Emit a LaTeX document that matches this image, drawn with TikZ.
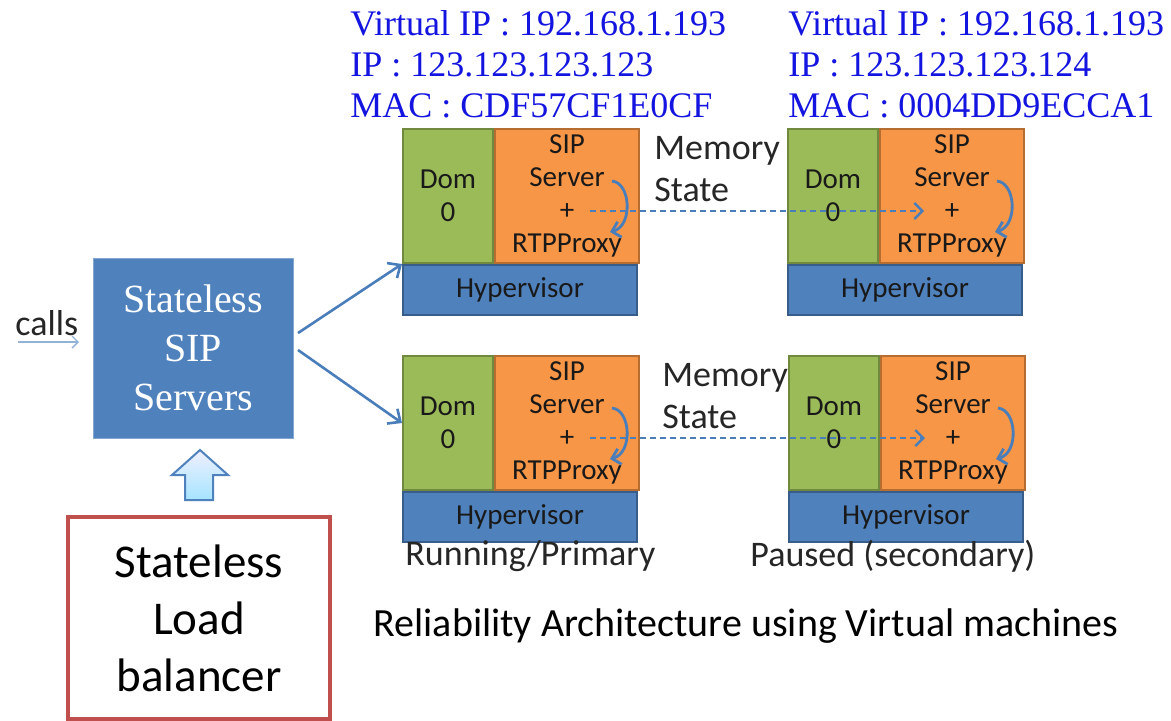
\documentclass[tikz,border=0pt]{standalone}
\usepackage{fontspec}
\setmainfont{Carlito}
\newfontfamily\headfont{Liberation Serif}
\usetikzlibrary{arrows.meta}
\definecolor{hdblue}{RGB}{20,20,225}
\definecolor{domgreen}{RGB}{155,187,89}
\definecolor{domline}{RGB}{113,137,63}
\definecolor{siporange}{RGB}{247,150,70}
\definecolor{sipline}{RGB}{182,109,49}
\definecolor{hypblue}{RGB}{79,129,189}
\definecolor{hypline}{RGB}{56,93,138}
\definecolor{arblue}{RGB}{74,126,187}
\definecolor{lbred}{RGB}{192,80,77}
\tikzset{
  dombox/.style={draw=domline,fill=domgreen,line width=1pt,minimum width=45pt,minimum height=67pt,
    inner sep=0pt,anchor=north west,align=center,text=black!90,font=\fontsize{14.5}{16.4}\selectfont},
  sipbox/.style={dombox,draw=sipline,fill=siporange,minimum width=72pt},
  hypbox/.style={dombox,draw=hypline,fill=hypblue,minimum width=117pt,minimum height=25pt},
  header/.style={anchor=north west,inner sep=0pt,align=left,text=hdblue,font=\headfont\fontsize{18}{20.5}\selectfont},
  sipsbox/.style={fill=hypblue,draw=hypblue!70,minimum width=100pt,minimum height=90pt,align=center,
    text=white,font=\headfont\fontsize{20}{24.5}\selectfont},
  lbbox/.style={draw=lbred,line width=2pt,minimum width=131pt,minimum height=101pt,align=center,
    font=\fontsize{23.5}{28.5}\selectfont},
  memtext/.style={anchor=west,inner sep=0pt,align=left,text=black!85,font=\fontsize{18}{21}\selectfont},
  forkarrow/.style={draw=arblue,line width=1.3pt,-{Straight Barb[length=5pt,width=9pt]}},
  looparrow/.style={draw=arblue,line width=1.4pt,-{Straight Barb[length=4pt,width=8pt]}},
  memarrow/.style={draw=arblue,line width=1.2pt,dash pattern=on 3pt off 2pt,-{Straight Barb[length=4pt,width=8pt]}},
  callsarrow/.style={draw=arblue!60,line width=0.7pt,-{Straight Barb[length=3pt,width=6pt]}},
  uparrow/.style={draw=hypblue,line width=1pt,top color=blue!6!white,bottom color=blue!30!cyan!35!white}
}
\begin{document}
\begin{tikzpicture}[x=0.5pt,y=-0.5pt]
\fill[white] (0,0) rectangle (1171,720);
\useasboundingbox (0,0) rectangle (1171,720);
\node[header] (hdra) at (350,10) {Virtual IP : 192.168.1.193\\IP : 123.123.123.123\\MAC : CDF57CF1E0CF};
\node[header] (hdrb) at (788,10) {Virtual IP : 192.168.1.193\\IP : 123.123.123.124\\MAC : 0004DD9ECCA1};
\foreach \n/\x/\y in {a/402/128,b/787/128,c/402/355,d/788/355}{
  \node[dombox] (dom\n) at (\x,\y) {Dom\\0};
  \node[sipbox] (sip\n) at (dom\n.north east) {SIP\\Server\\+\\RTPProxy};
  \node[hypbox] (hyp\n) at (dom\n.south west) {Hypervisor};
  \draw[looparrow] ({\x+210},{\y+53}) .. controls ({\x+229},{\y+55}) and ({\x+231},{\y+98}) .. ({\x+208},{\y+104});
  \coordinate (out\n) at ({\x+188},{\y+83});
  \coordinate (in\n) at ({\x+137},{\y+83});
}
\draw[memarrow] (outa) -- (inb);
\draw[memarrow] (outc) -- (ind);
\node[memtext] (mema) at (654,169) {Memory\\State};
\node[memtext] (memc) at (662,396) {Memory\\State};
\node[memtext] (runc) at (405,556) {Running/Primary};
\node[memtext] (pausd) at (750,556) {Paused (secondary)};
\node[sipsbox] (sips) at (193,348) {Stateless\\SIP\\Servers};
\coordinate (forka) at (298,333);
\coordinate (forkc) at (298,350);
\draw[forkarrow] (forka) -- (doma.south west);
\draw[forkarrow] (forkc) -- (domc.west);
\node[memtext] (calls) at (15,323) {calls};
\coordinate (callsin) at (18,342);
\coordinate (callsend) at (79,342);
\draw[callsarrow] (callsin) -- (callsend);
\draw[uparrow] (185,500) -- (185,475) -- (172,475) -- (200,450) -- (228,475) -- (213,475) -- (213,500) -- cycle;
\node[lbbox] (lb) at (199,618) {Stateless\\Load\\balancer};
\node[memtext,anchor=center,font=\fontsize{20}{24}\selectfont,text=black] (title) at (746,626) {Reliability Architecture using Virtual machines};
\end{tikzpicture}
\end{document}
